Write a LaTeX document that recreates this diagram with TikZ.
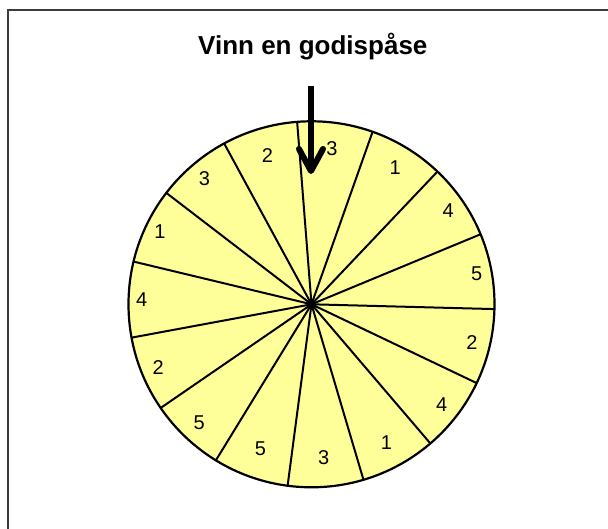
\documentclass[tikz,border=0pt]{standalone}
\usepackage{fontspec}
\setmainfont{Liberation Sans}
\usetikzlibrary{arrows.meta}
\definecolor{candy}{RGB}{255,255,153}
\definecolor{framegray}{RGB}{60,60,60}
\tikzset{prize/.style={font=\fontsize{20}{23}\selectfont}}
\begin{document}
\begin{tikzpicture}[x=1pt,y=1pt]
    \useasboundingbox (-311.5,-224.7) rectangle (296.5,304.3);
    \coordinate (O) at (0,0);
    \coordinate (F1) at (-303.2,-230);
    \coordinate (F2) at (-303.2,294.3);
    \coordinate (F3) at (300,294.3);
    \draw[line width=2pt,framegray] (F1)--(F2)--(F3);
    % wheel
    \fill[candy] (O) circle (183);
    \foreach \a in {0,...,14} \draw[line width=2pt] (O)--({94.5+24*\a}:183);
    \draw[line width=2.2pt] (O) circle (183);
    \node[prize] (n1) at (82.5:157) {3};
    \node[prize] (n2) at (106.5:155) {2};
    \node[prize] (n3) at (130.5:165) {3};
    \node[prize] (n4) at (154.5:168) {1};
    \node[prize] (n5) at (178.5:170) {4};
    \node[prize] (n6) at (202.5:166) {2};
    \node[prize] (n7) at (226.5:163) {5};
    \node[prize] (n8) at (250.5:153) {5};
    \node[prize] (n9) at (274.5:154) {3};
    \node[prize] (n10) at (298.5:157) {1};
    \node[prize] (n11) at (322.5:164) {4};
    \node[prize] (n12) at (346.5:165) {2};
    \node[prize] (n13) at (10.5:168) {5};
    \node[prize] (n14) at (34.5:166) {4};
    \node[prize] (n15) at (58.5:160) {1};
    % title and pointer
    \node[anchor=base,font=\fontsize{26}{30}\selectfont\bfseries] (title) at (1.3,250) {Vinn en godispåse};
    \coordinate (A1) at (-0.5,218.3);
    \coordinate (A2) at (-0.5,130.3);
    \draw[line width=6pt,-{Straight Barb[length=22pt,width=24pt,round]}] (A1)--(A2);
\end{tikzpicture}
\end{document}
